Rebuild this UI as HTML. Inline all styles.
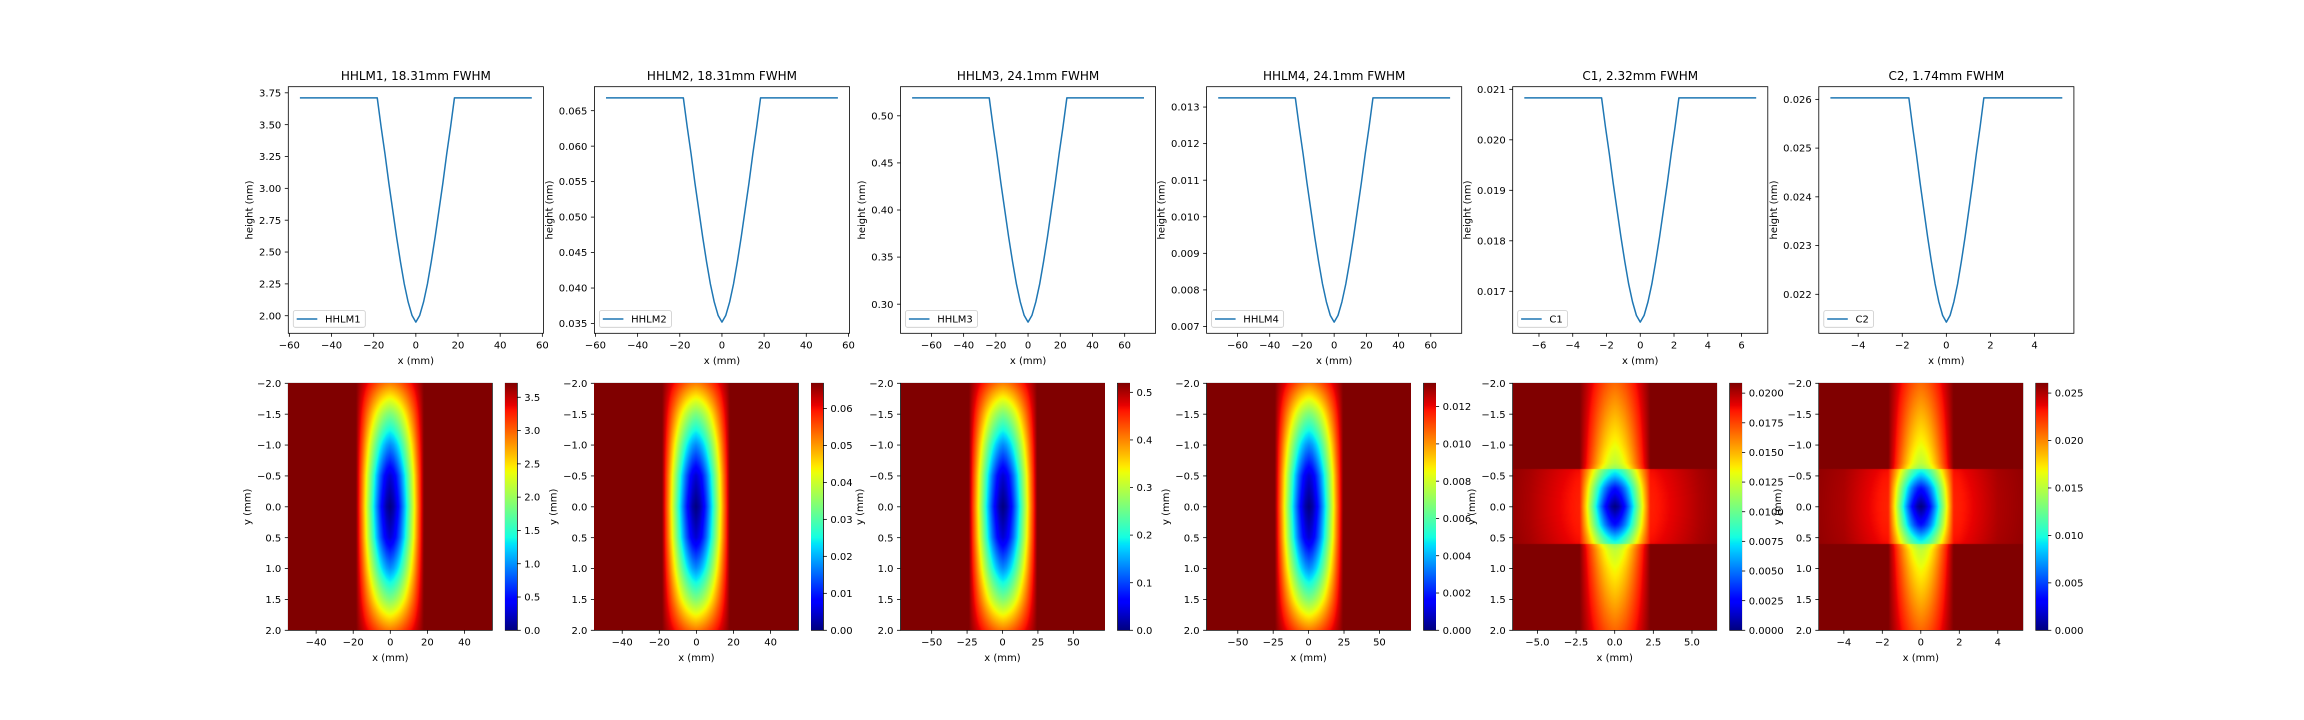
<!DOCTYPE html>
<html><head><meta charset="utf-8">
<style>
html,body{margin:0;padding:0;background:#fff;}
#wrap{position:relative;width:2304px;height:720px;overflow:hidden;background:#fff;}
svg{position:absolute;left:0;top:0;}
canvas{position:absolute;}
text{font-family:"DejaVu Sans","Liberation Sans",sans-serif;fill:#000;}
</style></head>
<body>
<div id="wrap">
<svg id="fig" width="2304" height="720" xmlns="http://www.w3.org/2000/svg"></svg>
</div>
<script>
// ---- data ----
const titles = ["HHLM1, 18.31mm FWHM","HHLM2, 18.31mm FWHM","HHLM3, 24.1mm FWHM","HHLM4, 24.1mm FWHM","C1, 2.32mm FWHM","C2, 1.74mm FWHM"];
const seriesNames = ["HHLM1","HHLM2","HHLM3","HHLM4","C1","C2"];
// half profiles (x >= 0), mirrored for x < 0
const p1X = [0,1.83,3.66,5.49,7.32,9.15,10.98,12.81,14.64,16.47,18.31,55];
const p1H = [1.950,2.003,2.108,2.249,2.425,2.619,2.830,3.041,3.270,3.481,3.710,3.710];
const p2X = [0,1.83,3.66,5.49,7.32,9.15,10.98,12.81,14.64,16.47,18.31,55];
const p2H = [0.0352,0.03615,0.03804,0.04057,0.04373,0.04721,0.0510,0.05479,0.0589,0.06269,0.0668,0.0668];
const p3X = [0,2.41,4.82,7.23,9.64,12.05,14.46,16.87,19.28,21.69,24.1,72];
const p3H = [0.281,0.2881,0.3024,0.3215,0.3453,0.3714,0.400,0.4286,0.4595,0.4881,0.519,0.519];
const p4X = [0,2.41,4.82,7.23,9.64,12.05,14.46,16.87,19.28,21.69,24.1,72];
const p4H = [0.00712,0.007304,0.007672,0.008162,0.008775,0.009449,0.010185,0.010921,0.011718,0.012453,0.01325,0.01325];
const p5X = [0,0.229,0.458,0.687,0.916,1.145,1.374,1.603,1.832,2.061,2.29,6.87];
const p5H = [0.01639,0.016523,0.01679,0.017145,0.017589,0.018077,0.01861,0.019143,0.01972,0.020253,0.02083,0.02083];
const p6X = [0,0.17,0.34,0.51,0.68,0.85,1.02,1.19,1.36,1.53,1.70,5.26];
const p6H = [0.02143,0.021568,0.021844,0.022212,0.022672,0.023178,0.02373,0.024282,0.02488,0.025432,0.02603,0.02603];
// heatmap y-dependence
const avY = [0,0.5,1,1.5,2];
const hhlmAv = [1,0.93,0.74,0.5,0.22];
const cAvY = [0,0.3,0.5,0.7,1,1.5,2];
const c1Av = [0.85,0.72,0.55,0.42,0.36,0.28,0.2];
const c2Av = [0.85,0.72,0.55,0.42,0.36,0.28,0.2];
// horizontal arm (C mirrors)
const armY = [0,0.2,0.4,0.55,0.6];
const armS = [1,0.98,0.92,0.85,0.8];
const c1ArmX = [0,1,2.5,4,5.5,6.6];
const c1Ah = [0.15,0.14,0.12,0.08,0.04,0.02];
const c2ArmX = [0,1,2,3,4,5.3];
const c2Ah = [0.15,0.14,0.12,0.08,0.04,0.02];
// ticks
const topXTicks = [[-60,-40,-20,0,20,40,60],[-60,-40,-20,0,20,40,60],[-60,-40,-20,0,20,40,60],[-60,-40,-20,0,20,40,60],[-6,-4,-2,0,2,4,6],[-4,-2,0,2,4]];
const topYTicks = [[2.00,2.25,2.50,2.75,3.00,3.25,3.50,3.75],[0.035,0.040,0.045,0.050,0.055,0.060,0.065],[0.30,0.35,0.40,0.45,0.50],[0.007,0.008,0.009,0.010,0.011,0.012,0.013],[0.017,0.018,0.019,0.020,0.021],[0.022,0.023,0.024,0.025,0.026]];
const topYDec = [2,3,2,3,3,3];
const heatXTicks = [[-40,-20,0,20,40],[-40,-20,0,20,40],[-50,-25,0,25,50],[-50,-25,0,25,50],[-5,-2.5,0,2.5,5],[-4,-2,0,2,4]];
const heatXDec = [0,0,0,0,1,0];
const heatExtent = [55,55,72,72,6.6,5.3];
const heatYTicks = [-2,-1.5,-1,-0.5,0,0.5,1,1.5,2];
const cbTicks = [[0,0.5,1,1.5,2,2.5,3,3.5],[0,0.01,0.02,0.03,0.04,0.05,0.06],[0,0.1,0.2,0.3,0.4,0.5],[0,0.002,0.004,0.006,0.008,0.010,0.012],[0,0.0025,0.005,0.0075,0.01,0.0125,0.015,0.0175,0.02],[0,0.005,0.01,0.015,0.02,0.025]];
const cbDec = [1,2,1,3,4,3];

const profX=[p1X,p2X,p3X,p4X,p5X,p6X], profH=[p1H,p2H,p3H,p4H,p5H,p6H];
const heatAvY=[avY,avY,avY,avY,cAvY,cAvY];
const heatAv=[hhlmAv,hhlmAv,hhlmAv,hhlmAv,c1Av,c2Av];
const armXs=[null,null,null,null,c1ArmX,c2ArmX], armAh=[null,null,null,null,c1Ah,c2Ah];

// ---- layout ----
const NS="http://www.w3.org/2000/svg";
const svg=document.getElementById('fig');
const wrap=document.getElementById('wrap');
const L0=288.3, DX=306.1, AW=255.1, TT=86.7, TB=333.3, HT=383.3, HB=630.3, HW=204, CBX=217, CBW=12;
const TL=3.5;

function mk(tag,attrs,parent){const e=document.createElementNS(NS,tag);for(const k in attrs)e.setAttribute(k,attrs[k]);(parent||svg).appendChild(e);return e;}
function fmt(v,d){let s=Math.abs(v).toFixed(d);if(v<0&&parseFloat(s)!==0)s="\u2212"+s;return s;}
function interp(xs,ys,x){x=Math.abs(x);if(x<=xs[0])return ys[0];for(let i=1;i<xs.length;i++){if(x<=xs[i]){const t=(x-xs[i-1])/(xs[i]-xs[i-1]);return ys[i-1]+t*(ys[i]-ys[i-1]);}}return ys[ys.length-1];}
function jet(v){v=Math.max(0,Math.min(1,v));
 const r=interp([0,.35,.66,.89,1],[0,0,1,1,.5],v), g=interp([0,.125,.375,.64,.91,1],[0,0,1,1,0,0],v), b=interp([0,.11,.34,.65,1],[.5,1,1,0,0],v);
 return [r*255,g*255,b*255];}
function txt(x,y,s,anchor,size,g){const t=mk('text',{x:x,y:y,'text-anchor':anchor||'middle','font-size':size||10},g);t.textContent=s;return t;}

for(let p=0;p<6;p++){
 const L=L0+p*DX;
 const xs=profX[p], hs=profH[p];
 const hmin=Math.min(...hs), hmax=Math.max(...hs), D=hmax-hmin, xmax=xs[xs.length-1];
 const xlo=-xmax*1.1, xhi=xmax*1.1, ylo=hmin-0.05*D, yhi=hmax+0.05*D;
 const sx=x=>L+(x-xlo)/(xhi-xlo)*AW;
 const sy=y=>TB-(y-ylo)/(yhi-ylo)*(TB-TT);

 // ---------- top line plot ----------
 const g=mk('g',{});
 
 
 const tt=txt(L+AW/2,TT-6.5,titles[p],'middle',12,g);
 
 
 const pts=[];
 for(let i=xs.length-1;i>=1;i--)pts.push(sx(-xs[i]).toFixed(2)+','+sy(hs[i]).toFixed(2));
 for(let i=0;i<xs.length;i++)pts.push(sx(xs[i]).toFixed(2)+','+sy(hs[i]).toFixed(2));
 const ln=mk('polyline',{points:pts.join(' '),fill:'none',stroke:'#1f77b4','stroke-width':1.5,'stroke-linejoin':'round'},g);
 
 
 const fr=mk('rect',{x:L,y:TT,width:AW,height:TB-TT,fill:'none',stroke:'#000','stroke-width':0.8},g);
 
 
 topXTicks[p].forEach(v=>{const x=sx(v);mk('line',{x1:x,x2:x,y1:TB,y2:TB+TL,stroke:'#000','stroke-width':0.8},g);
  const t=txt(x,TB+15,fmt(v,0),'middle',10,g);
  
  });
 const xl=txt(L+AW/2,TB+30.5,'x (mm)','middle',10,g);
 
 
 let maxW=0;
 topYTicks[p].forEach(v=>{const y=sy(v);mk('line',{x1:L-TL,x2:L,y1:y,y2:y,stroke:'#000','stroke-width':0.8},g);
  const t=txt(L-7,y+3.6,fmt(v,topYDec[p]),'end',10,g);
  
  
  maxW=Math.max(maxW,t.getComputedTextLength());});
 const yx=L-7-maxW-4-2.4;
 const yl=mk('text',{x:0,y:0,'text-anchor':'middle','font-size':10,transform:`translate(${yx},${(TT+TB)/2}) rotate(-90)`},g);
 yl.textContent='height (nm)';
 
 
 const lg=mk('g',{},g);
 
 
 const lt=txt(0,0,seriesNames[p],'start',10,lg);
 const tw=lt.getComputedTextLength();
 const bx=L+5, bw=31.7+tw+4.7, by=TB-22.7, bh=16.7;
 const box=mk('rect',{x:bx,y:by,width:bw,height:bh,rx:2,fill:'#fff','fill-opacity':0.8,stroke:'#ccc','stroke-width':0.8});
 lg.insertBefore(box,lt);
 
 
 const ll=mk('line',{x1:bx+3.4,x2:bx+24,y1:by+bh/2,y2:by+bh/2,stroke:'#1f77b4','stroke-width':1.5},lg);
 
 
 lt.setAttribute('x',bx+31.7);lt.setAttribute('y',by+bh/2+3.6);
 
 

 // ---------- heatmap ----------
 const ext=heatExtent[p], H=HB-HT;
 const cv=document.createElement('canvas');
 cv.width=HW;cv.height=Math.round(H);
 cv.style.left=L+'px';cv.style.top=HT+'px';cv.style.width=HW+'px';cv.style.height=H+'px';
 
 
 wrap.appendChild(cv);
 const ctx=cv.getContext('2d');const img=ctx.createImageData(cv.width,cv.height);
 const ay=heatAvY[p], av=heatAv[p], ax=armXs[p], ah=armAh[p];
 for(let j=0;j<cv.height;j++){
  const y=-2+(j+0.5)/cv.height*4;
  const a=interp(ay,av,y);
  const sArm=Math.abs(y)<=armY[armY.length-1]?interp(armY,armS,y):0;
  for(let i=0;i<cv.width;i++){
   const x=-ext+(i+0.5)/cv.width*2*ext;
   const s=(hmax-interp(xs,hs,x))/D;
   let drop=s*a;
   if(ax)drop+=sArm*interp(ax,ah,x);
   const v=hmax*(1-drop);
   const c=jet(v/hmax);const k=(j*cv.width+i)*4;
   img.data[k]=c[0];img.data[k+1]=c[1];img.data[k+2]=c[2];img.data[k+3]=255;
  }}
 ctx.putImageData(img,0,0);
 const hg=mk('g',{});
 
 
 const hfr=mk('rect',{x:L,y:HT,width:HW,height:H,fill:'none',stroke:'#000','stroke-width':0.8},hg);
 
 
 const hx=x=>L+(x+ext)/(2*ext)*HW, hy=y=>HT+(y+2)/4*H;
 heatXTicks[p].forEach(v=>{const x=hx(v);mk('line',{x1:x,x2:x,y1:HB,y2:HB+TL,stroke:'#000','stroke-width':0.8},hg);
  const t=txt(x,HB+15,fmt(v,heatXDec[p]),'middle',10,hg);
  
  });
 const hxl=txt(L+HW/2,HB+30.5,'x (mm)','middle',10,hg);
 
 
 let mw=0;
 heatYTicks.forEach(v=>{const y=hy(v);mk('line',{x1:L-TL,x2:L,y1:y,y2:y,stroke:'#000','stroke-width':0.8},hg);
  const t=txt(L-7,y+3.6,fmt(v,1),'end',10,hg);
  
  
  mw=Math.max(mw,t.getComputedTextLength());});
 const hyl=mk('text',{x:0,y:0,'text-anchor':'middle','font-size':10,transform:`translate(${L-7-mw-4-2.4},${(HT+HB)/2}) rotate(-90)`},hg);
 hyl.textContent='y (mm)';
 
 

 // ---------- colorbar ----------
 const cb=document.createElement('canvas');
 cb.width=CBW;cb.height=Math.round(H);
 cb.style.left=(L+CBX)+'px';cb.style.top=HT+'px';cb.style.width=CBW+'px';cb.style.height=H+'px';
 
 
 wrap.appendChild(cb);
 const cctx=cb.getContext('2d');const cim=cctx.createImageData(cb.width,cb.height);
 for(let j=0;j<cb.height;j++){const c=jet(1-(j+0.5)/cb.height);for(let i=0;i<cb.width;i++){const k=(j*cb.width+i)*4;cim.data[k]=c[0];cim.data[k+1]=c[1];cim.data[k+2]=c[2];cim.data[k+3]=255;}}
 cctx.putImageData(cim,0,0);
 const cg=mk('g',{});
 
 
 mk('rect',{x:L+CBX,y:HT,width:CBW,height:H,fill:'none',stroke:'#000','stroke-width':0.8},cg);
 const cy=v=>HB-v/hmax*H;
 cbTicks[p].forEach(v=>{if(v>hmax)return;const y=cy(v);const xr=L+CBX+CBW;
  mk('line',{x1:xr,x2:xr+TL,y1:y,y2:y,stroke:'#000','stroke-width':0.8},cg);
  const t=txt(xr+7,y+3.6,fmt(v,cbDec[p]),'start',10,cg);
  
  });
}
</script>
</body></html>
